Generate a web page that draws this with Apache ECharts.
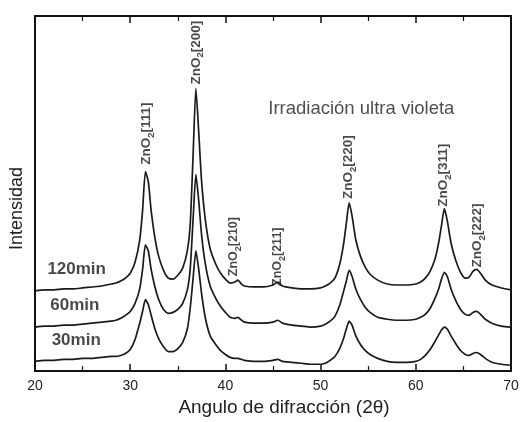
<!DOCTYPE html>
<html>
<head>
<meta charset="utf-8">
<script src="https://cdn.jsdelivr.net/npm/echarts@6/dist/echarts.min.js"></script>
<style>html,body{margin:0;padding:0;background:#fff}#c{width:522px;height:422px}</style>
</head>
<body>
<div id="c"></div>
<script>
// 2-theta sample positions (degrees)
var angles = [20,21,22,23,24,25,26,27,28,28.5,29,29.5,30,30.5,31,31.3,31.6,31.9,32.2,32.6,33,33.5,34,34.5,35,35.5,36,36.3,36.6,36.9,37.2,37.5,37.9,38.4,39,39.5,40,40.5,41,41.3,41.7,42,43,44,45,45.5,46,47,48,49,50,50.5,51,51.5,52,52.4,52.7,53,53.3,53.7,54.2,54.7,55.2,56,57,58,59,60,60.5,61,61.5,62,62.4,62.7,63,63.3,63.7,64.2,64.7,65.2,65.6,66,66.4,66.8,67.3,68,69,70];

// intensities (arbitrary units, stacked traces)
var i120 = [82,83,83,84,84,85,86,87,89,90,92,95,100,111,134,164,204,194,164,136,117,103,95,94,98,105,123,149,219,289,244,194,154,125,109,100,94,90,91,93,89,87,86,86,88,91,87,85,84,84,85,87,90,95,109,129,151,172,159,134,117,106,99,93,89,88,88,89,91,95,102,114,131,149,166,154,131,113,101,95,96,102,104,100,93,88,85,83];
var i60 = [45,46,46,47,47,48,49,50,51,52,54,57,61,69,84,104,129,123,104,86,73,63,59,60,63,69,83,104,154,201,174,139,109,87,74,66,60,55,54,55,52,50,49,49,50,52,49,47,46,45,46,48,51,56,67,81,92,103,97,84,73,65,60,55,53,52,52,53,55,58,64,74,84,94,101,97,84,72,63,58,57,60,61,58,53,49,46,45];
var i30 = [10,11,11,12,12,13,13,14,15,15,16,18,22,32,49,61,73,68,57,43,33,25,20,20,23,29,43,64,94,123,104,79,54,36,27,21,17,14,13,13,12,11,10,10,11,12,10,9,8,7,7,8,11,15,23,33,43,51,47,36,27,21,17,13,10,9,9,10,12,16,22,30,37,42,45,43,36,28,21,17,16,18,19,17,13,9,7,6];

var seriesNames = ['120min','60min','30min'];

// peak annotations: [2theta, intensity, reflection]
var peakLabels = [
  [31.7, 211, '111'],
  [36.95, 293, '200'],
  [40.9, 97, '210'],
  [45.5, 87, '211'],
  [52.95, 176, '220'],
  [62.95, 168, '311'],
  [66.5, 106, '222']
];
// trace name labels: [2theta, intensity, text]
var traceLabels = [
  [21.3, 104, '120min'],
  [21.6, 67, '60min'],
  [21.75, 31, '30min']
];
var titleText = 'Irradiación ultra violeta';
var titlePos = [44.5, 268];

var xTicks = [20,30,40,50,60,70];

function pairs(ys){ return angles.map(function(a,i){ return [a, ys[i]]; }); }

var chart = echarts.init(document.getElementById('c'), null, {renderer:'canvas'});
var lineStyle = {color:'#1a1a1a', width:1.7};
var axisLineStyle = {color:'#111', width:2};
var small = {'210':1,'211':1};
var F = 'Liberation Sans';

function xAx(pos, withLabels){
  return {
    type:'value', min:xTicks[0], max:xTicks[xTicks.length-1], interval:10,
    position:pos,
    axisLine:{show:true, onZero:false, lineStyle:axisLineStyle},
    axisTick:{inside:true, length:7, lineStyle:{color:'#111', width:1.5}},
    minorTick:{show:true, splitNumber:2, length:5, lineStyle:{color:'#111', width:1.2}},
    splitLine:{show:false},
    axisLabel:{show:withLabels, fontFamily:F, fontSize:14, color:'#222', margin:8},
    name: withLabels ? 'Angulo de difracción (2θ)' : '',
    nameLocation:'middle', nameGap:25,
    nameTextStyle:{fontFamily:F, fontSize:19, color:'#222', padding:[0,0,0,22]}
  };
}
function yAx(pos, withName){
  return {
    type:'value', min:0, max:363, position:pos,
    axisLine:{show:true, onZero:false, lineStyle:axisLineStyle},
    axisTick:{show:false}, axisLabel:{show:false}, splitLine:{show:false},
    name: withName ? 'Intensidad' : '', nameLocation:'middle', nameGap:9, nameRotate:90,
    nameTextStyle:{fontFamily:F, fontSize:18, color:'#222', padding:[0,30,0,0]}
  };
}

chart.setOption({
  backgroundColor:'#fff',
  animation:false,
  grid:{left:28, right:11, top:16, bottom:43},
  xAxis:[xAx('bottom', true), xAx('top', false)],
  yAxis:[yAx('left', true), yAx('right', false)],
  series:[
    {name:seriesNames[0], type:'line', data:pairs(i120), showSymbol:false, lineStyle:lineStyle, smooth:0.2},
    {name:seriesNames[1], type:'line', data:pairs(i60), showSymbol:false, lineStyle:lineStyle, smooth:0.2},
    {name:seriesNames[2], type:'line', data:pairs(i30), showSymbol:false, lineStyle:lineStyle, smooth:0.2},
    {type:'scatter', symbolSize:0, silent:true,
      data:peakLabels.map(function(p){ return {value:[p[0],p[1]], name:p[2]}; }),
      label:{show:true, position:[0,0], rotate:90, align:'left', verticalAlign:'middle',
        formatter:function(d){ var k = small[d.name] ? 's' : ''; return '{m'+k+'|ZnO}{sub'+k+'|2}{m'+k+'|['+d.name+']}'; },
        rich:{
          m:{fontFamily:F, fontWeight:'bold', fontSize:13.5, color:'#1a1a1a', lineHeight:15, verticalAlign:'top'},
          sub:{fontFamily:F, fontWeight:'bold', fontSize:9.5, color:'#1a1a1a', lineHeight:10, padding:[7,0,0,0], verticalAlign:'top'},
          ms:{fontFamily:F, fontWeight:'bold', fontSize:12.5, color:'#1a1a1a', lineHeight:14, verticalAlign:'top'},
          subs:{fontFamily:F, fontWeight:'bold', fontSize:9, color:'#1a1a1a', lineHeight:9, padding:[7,0,0,0], verticalAlign:'top'}
        }
      }
    },
    {type:'scatter', symbolSize:0, silent:true,
      data:traceLabels.map(function(p){ return {value:[p[0],p[1]], name:p[2]}; }),
      label:{show:true, position:[0,0], align:'left', verticalAlign:'middle',
        formatter:'{b}', fontFamily:F, fontWeight:'bold', fontSize:17, color:'#1a1a1a'}
    },
    {type:'scatter', symbolSize:0, silent:true,
      data:[{value:titlePos, name:titleText}],
      label:{show:true, position:[0,0], align:'left', verticalAlign:'middle',
        formatter:'{b}', fontFamily:F, fontSize:18.5, color:'#222'}
    }
  ]
});
</script>
</body>
</html>
